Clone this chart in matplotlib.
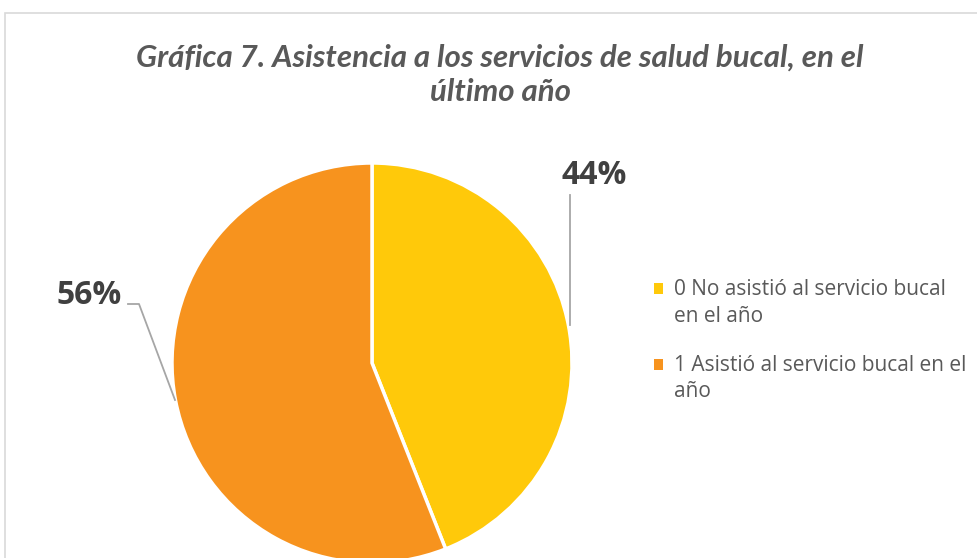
import matplotlib.pyplot as plt
from matplotlib.patches import Patch, Rectangle
from matplotlib.legend_handler import HandlerPatch

labels = ["0 No asistió al servicio bucal\nen el año", "1 Asistió al servicio bucal en el\naño"]
values = [44, 56]
colors = ["#FFC90A", "#F7931E"]
title = "Gráfica 7. Asistencia a los servicios de salud bucal, en el\núltimo año"

W, H = 977, 558
fig = plt.figure(figsize=(W / 100, H / 100), dpi=100)
ax = fig.add_axes([0, 0, 1, 1])

# chart area border (light gray)
ax.add_patch(Rectangle((5, -20), 1000, H - 13 + 20, fill=False, ec="#D9D9D9", lw=1.2))

wedges, _ = ax.pie(values, colors=colors, startangle=90, counterclock=False,
                   center=(372, H - 363), radius=200, frame=True,
                   wedgeprops=dict(edgecolor="white", linewidth=2.5))
ax.set_xlim(0, W)
ax.set_ylim(0, H)
ax.axis("off")

lab_font = dict(fontfamily="Open Sans", fontweight="bold", fontsize=23, color="#404040")
ax.text(594, H - 175, f"{values[0]}%", ha="center", va="center", **lab_font)
ax.text(89, H - 296, f"{values[1]}%", ha="center", va="center", **lab_font)
ax.plot([570, 570], [H - 195, H - 325], color="#A6A6A6", lw=1.3)
ax.plot([128, 139, 175], [H - 304, H - 304, H - 400], color="#A6A6A6", lw=1.3)

ax.text(500, H - 75, title, ha="center", va="center", fontfamily="Lato",
        fontweight="bold", fontstyle="italic", fontsize=22.5, color="#595959",
        linespacing=1.3)


def top_square(legend, orig_handle, xdescent, ydescent, width, height, fontsize):
    # square aligned with the first text line
    return Rectangle((-xdescent, -ydescent + 0.7 * fontsize), width, height)


handles = [Patch(facecolor=c) for c in colors]
leg = ax.legend(handles, labels, loc="upper left", bbox_to_anchor=(654 / W, 1 - 279 / H),
                frameon=False, handlelength=0.42, handleheight=0.42, handletextpad=0.55,
                labelspacing=1.35, prop=dict(family="Open Sans", size=15),
                borderaxespad=0, borderpad=0,
                handler_map={Patch: HandlerPatch(patch_func=top_square)})
for t in leg.get_texts():
    t.set_color("#595959")
    t.set_linespacing(1.35)

fig.savefig("out.png", dpi=100)
